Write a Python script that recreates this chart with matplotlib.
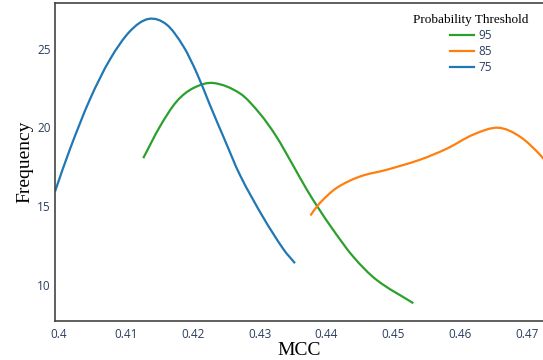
import matplotlib.pyplot as plt
import numpy as np
from matplotlib.lines import Line2D
from matplotlib.path import Path
from matplotlib.patches import PathPatch

mcc_95 = [0.4126, 0.4151, 0.4176, 0.4201, 0.4231, 0.4271, 0.4300, 0.4325,
          0.4350, 0.4370, 0.4388, 0.4410, 0.4440, 0.4475, 0.4530]
freq_95 = [18.05, 20.06, 21.65, 22.5, 22.82, 22.15, 20.9, 19.43,
           17.6, 16.1, 14.88, 13.5, 11.8, 10.32, 8.84]

mcc_85 = [0.4376, 0.4390, 0.4415, 0.4450, 0.4490, 0.4540, 0.4580, 0.4620,
          0.4657, 0.4690, 0.4723, 0.4750]
freq_85 = [14.41, 15.19, 16.15, 16.88, 17.31, 17.95, 18.65, 19.55,
           19.98, 19.4, 18.1, 16.6]

mcc_75 = [0.3994, 0.4016, 0.4046, 0.4076, 0.4106, 0.4134, 0.4161, 0.4186, 0.4206,
          0.4226, 0.4246, 0.4271, 0.4306, 0.4336, 0.4353]
freq_75 = [15.93, 18.58, 21.76, 24.3, 26.1, 26.89, 26.53, 25.15, 23.46,
           21.4, 19.4, 16.95, 14.25, 12.25, 11.38]

labels = ["95", "85", "75"]
colors = ["#2ca02c", "#ff7f0e", "#1f77b4"]
xticks = [0.40, 0.41, 0.42, 0.43, 0.44, 0.45, 0.46, 0.47]
xtick_labels = ["0.4", "0.41", "0.42", "0.43", "0.44", "0.45", "0.46", "0.47"]
yticks = [10, 15, 20, 25]

tick_col = "#2a3f5f"
serif = "Liberation Serif"


def spline_path(xs, ys):
    # smooth line through the points (cubic hermite as bezier segments)
    x = np.asarray(xs, float)
    y = np.asarray(ys, float)
    n = len(x)
    m = np.empty(n)
    m[0] = (y[1] - y[0]) / (x[1] - x[0])
    m[-1] = (y[-1] - y[-2]) / (x[-1] - x[-2])
    m[1:-1] = (y[2:] - y[:-2]) / (x[2:] - x[:-2])
    verts = [(x[0], y[0])]
    codes = [Path.MOVETO]
    for i in range(n - 1):
        h = (x[i + 1] - x[i]) / 3
        verts += [(x[i] + h, y[i] + m[i] * h),
                  (x[i + 1] - h, y[i + 1] - m[i + 1] * h),
                  (x[i + 1], y[i + 1])]
        codes += [Path.CURVE4] * 3
    return Path(verts, codes)


fig = plt.figure(figsize=(5.43, 3.6), dpi=100)
ax = fig.add_axes([55 / 543, 39 / 360, 1 - 55 / 543, 318 / 360])

series = [(mcc_95, freq_95), (mcc_85, freq_85), (mcc_75, freq_75)]
for (xs, ys), c in zip(series, colors):
    ax.add_patch(PathPatch(spline_path(xs, ys), fill=False, edgecolor=c, lw=1.6,
                           capstyle="butt"))

ax.set_xlim(0.3994, 0.4724)
ax.set_ylim(7.71, 27.9)

ax.set_xticks(xticks)
ax.set_xticklabels(xtick_labels)
ax.set_yticks(yticks)
ax.tick_params(length=0, labelsize=8.5, labelcolor=tick_col, pad=5)
for t in ax.get_xticklabels() + ax.get_yticklabels():
    t.set_fontfamily("Open Sans")
ax.tick_params(axis="y", pad=3)

for s in ["left", "bottom", "top"]:
    ax.spines[s].set_color("#444444")
    ax.spines[s].set_linewidth(1.2)
ax.spines["right"].set_visible(False)

ax.set_xlabel("MCC", fontsize=14, fontfamily=serif, labelpad=1)
ax.set_ylabel("Frequency", fontsize=14, fontfamily=serif, labelpad=3)

handles = [Line2D([0], [0], color=c, lw=1.6) for c in colors]
leg = ax.legend(handles, labels, loc="upper center",
                bbox_to_anchor=(471 / 543, 1 - 8 / 360), bbox_transform=fig.transFigure,
                frameon=False, title="Probability Threshold",
                title_fontproperties={"family": serif, "size": 9.5},
                prop={"family": "Open Sans", "size": 8.5},
                handlelength=2.0, handletextpad=0.35, labelspacing=0.25, borderpad=0)
for t in leg.get_texts():
    t.set_color(tick_col)

fig.savefig("out.png", dpi=100)
